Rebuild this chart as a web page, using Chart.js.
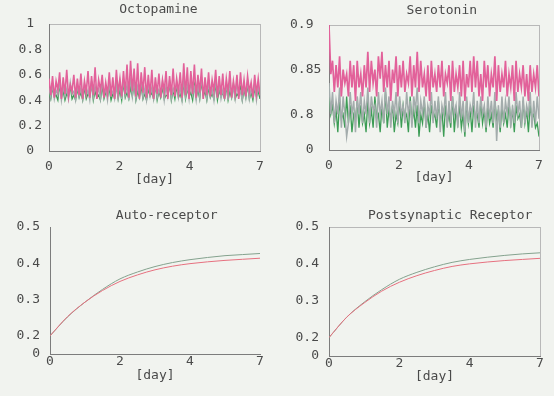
<!DOCTYPE html>
<html><head><meta charset="utf-8">
<script src="https://cdn.jsdelivr.net/npm/chart.js@4.4.1/dist/chart.umd.min.js"></script>
<style>
html,body{margin:0;padding:0;background:#f1f3ef;}
#wrap{position:relative;width:554px;height:396px;overflow:hidden;background:#f1f3ef;}
canvas{position:absolute;}
</style></head><body>
<div id="wrap">
<canvas id="c1" style="left:0;top:0;width:277px;height:198px" width="277" height="198"></canvas>
<canvas id="c2" style="left:277px;top:0;width:277px;height:198px" width="277" height="198"></canvas>
<canvas id="c3" style="left:0;top:198px;width:277px;height:198px" width="277" height="198"></canvas>
<canvas id="c4" style="left:277px;top:198px;width:277px;height:198px" width="277" height="198"></canvas>
</div>
<script>
// ---- tick labels (equally spaced in the figure) ----
const xTickValues = [0, 1, 2, 3];
const xTickLabels = ['0', '2', '4', '7'];

const octoYTicks = [0, 0.2, 0.4, 0.6, 0.8, 1];
const octoYLabels = ['0', '0.2', '0.4', '0.6', '0.8', '1'];
const seroYTicks = [0.76, 0.8, 0.85, 0.9];
const seroYLabels = ['0', '0.8', '0.85', '0.9'];
const recYTicks = [0.15, 0.2, 0.3, 0.4, 0.5];
const recYLabels = ['0', '0.2', '0.3', '0.4', '0.5'];

// ---- Octopamine ----
const octoPink = [
0.57,0.44,0.59,0.42,0.55,0.48,0.62,0.41,0.58,0.45,0.64,0.43,0.52,0.47,0.60,0.42,0.57,0.44,0.61,0.41,
0.55,0.46,0.63,0.42,0.59,0.44,0.66,0.41,0.56,0.48,0.60,0.42,0.54,0.45,0.62,0.43,0.58,0.41,0.64,0.46,
0.57,0.43,0.63,0.45,0.68,0.42,0.71,0.47,0.65,0.43,0.69,0.41,0.62,0.46,0.66,0.42,0.60,0.44,0.64,0.41,
0.58,0.45,0.61,0.42,0.56,0.47,0.63,0.41,0.59,0.44,0.65,0.43,0.57,0.46,0.62,0.42,0.69,0.44,0.66,0.41,
0.63,0.45,0.68,0.42,0.60,0.46,0.65,0.41,0.58,0.44,0.62,0.43,0.56,0.47,0.64,0.42,0.59,0.44,0.61,0.41,
0.57,0.46,0.63,0.42,0.55,0.45,0.60,0.41,0.62,0.44,0.56,0.43,0.59,0.47,0.54,0.42,0.60,0.45,0.57,0.44];
const octoGrey = [
0.50,0.42,0.53,0.41,0.48,0.44,0.55,0.40,0.51,0.43,0.49,0.41,0.54,0.45,0.47,0.40,0.52,0.43,0.50,0.41,
0.53,0.44,0.48,0.40,0.55,0.42,0.51,0.45,0.49,0.41,0.56,0.43,0.50,0.40,0.53,0.44,0.47,0.41,0.52,0.42,
0.54,0.41,0.57,0.44,0.52,0.40,0.58,0.43,0.55,0.41,0.51,0.45,0.56,0.42,0.49,0.40,0.54,0.43,0.50,0.41,
0.53,0.42,0.48,0.44,0.55,0.40,0.51,0.43,0.56,0.41,0.49,0.45,0.54,0.42,0.50,0.40,0.57,0.43,0.52,0.41,
0.55,0.44,0.50,0.40,0.53,0.42,0.58,0.45,0.51,0.41,0.54,0.43,0.49,0.40,0.56,0.44,0.52,0.41,0.48,0.42,
0.53,0.40,0.55,0.43,0.50,0.41,0.54,0.44,0.47,0.40,0.52,0.42,0.56,0.41,0.49,0.43,0.53,0.40,0.51,0.44];
const octoGreen = [
0.46,0.41,0.50,0.43,0.44,0.40,0.52,0.42,0.47,0.40,0.45,0.43,0.51,0.41,0.44,0.40,0.49,0.42,0.46,0.40,
0.50,0.41,0.45,0.43,0.53,0.40,0.47,0.42,0.44,0.40,0.51,0.41,0.46,0.43,0.49,0.40,0.45,0.42,0.52,0.41,
0.48,0.40,0.54,0.42,0.46,0.41,0.50,0.43,0.53,0.40,0.47,0.42,0.51,0.41,0.45,0.40,0.49,0.43,0.46,0.41,
0.52,0.40,0.47,0.42,0.50,0.41,0.44,0.43,0.53,0.40,0.48,0.41,0.51,0.42,0.45,0.40,0.54,0.41,0.49,0.43,
0.46,0.40,0.52,0.42,0.48,0.41,0.55,0.43,0.47,0.40,0.50,0.42,0.45,0.41,0.53,0.40,0.48,0.43,0.46,0.41,
0.51,0.40,0.47,0.42,0.53,0.41,0.45,0.43,0.50,0.40,0.48,0.42,0.52,0.41,0.46,0.40,0.49,0.43,0.47,0.41];

// ---- Serotonin ----
const seroPink = [
0.90,0.845,0.86,0.825,0.855,0.83,0.865,0.82,0.85,0.835,0.845,0.82,0.86,0.83,0.855,0.815,0.86,0.83,0.845,0.82,
0.855,0.83,0.87,0.825,0.86,0.835,0.85,0.82,0.865,0.84,0.87,0.825,0.855,0.83,0.86,0.815,0.85,0.835,0.865,0.82,
0.855,0.83,0.86,0.825,0.845,0.835,0.865,0.82,0.855,0.83,0.87,0.825,0.86,0.83,0.845,0.82,0.855,0.815,0.86,0.83,
0.845,0.825,0.855,0.83,0.86,0.82,0.845,0.835,0.855,0.815,0.86,0.825,0.845,0.83,0.855,0.82,0.86,0.815,0.845,0.83,
0.86,0.825,0.865,0.83,0.86,0.82,0.845,0.815,0.86,0.83,0.855,0.82,0.845,0.83,0.865,0.815,0.855,0.825,0.845,0.83,
0.86,0.82,0.845,0.83,0.855,0.815,0.86,0.825,0.845,0.83,0.855,0.82,0.845,0.815,0.855,0.825,0.845,0.83,0.855,0.82];
const seroGrey = [
0.835,0.80,0.825,0.79,0.815,0.80,0.83,0.785,0.82,0.80,0.775,0.79,0.825,0.80,0.815,0.78,0.82,0.80,0.825,0.79,
0.815,0.80,0.83,0.79,0.82,0.805,0.81,0.785,0.825,0.80,0.815,0.79,0.83,0.80,0.82,0.785,0.815,0.80,0.825,0.79,
0.82,0.80,0.81,0.79,0.825,0.80,0.815,0.785,0.82,0.805,0.83,0.79,0.815,0.80,0.82,0.785,0.81,0.80,0.825,0.79,
0.815,0.795,0.82,0.78,0.81,0.80,0.825,0.785,0.815,0.79,0.82,0.80,0.81,0.785,0.825,0.795,0.815,0.78,0.82,0.79,
0.81,0.80,0.825,0.785,0.815,0.79,0.82,0.80,0.81,0.785,0.82,0.795,0.815,0.79,0.825,0.77,0.81,0.785,0.82,0.79,
0.815,0.80,0.82,0.785,0.81,0.79,0.825,0.80,0.815,0.785,0.82,0.79,0.81,0.80,0.825,0.785,0.815,0.79,0.82,0.795];
const seroGreen = [
0.82,0.80,0.81,0.79,0.805,0.78,0.815,0.795,0.80,0.785,0.82,0.79,0.81,0.78,0.80,0.795,0.815,0.785,0.81,0.79,
0.80,0.78,0.815,0.79,0.805,0.785,0.82,0.795,0.80,0.78,0.81,0.79,0.825,0.785,0.805,0.795,0.81,0.78,0.80,0.79,
0.815,0.785,0.81,0.795,0.80,0.78,0.82,0.79,0.805,0.785,0.81,0.775,0.80,0.79,0.815,0.785,0.80,0.78,0.81,0.795,
0.80,0.785,0.815,0.79,0.805,0.775,0.81,0.79,0.80,0.785,0.82,0.78,0.805,0.79,0.81,0.785,0.80,0.775,0.815,0.79,
0.805,0.78,0.81,0.795,0.80,0.785,0.815,0.79,0.805,0.78,0.81,0.79,0.80,0.785,0.815,0.795,0.805,0.78,0.81,0.79,
0.80,0.785,0.815,0.79,0.805,0.78,0.81,0.795,0.80,0.785,0.815,0.79,0.805,0.78,0.81,0.795,0.80,0.785,0.79,0.775];

// ---- Receptors (sampled every 1/4 of a tick interval) ----
const recX = [0,0.25,0.5,0.75,1,1.25,1.5,1.75,2,2.25,2.5,2.75,3];
const autoUpper = [0.200,0.252,0.293,0.328,0.357,0.376,0.391,0.402,0.410,0.416,0.421,0.424,0.427];
const autoLower = [0.200,0.253,0.293,0.325,0.350,0.368,0.382,0.392,0.399,0.404,0.408,0.411,0.414];
const postUpper = [0.200,0.255,0.296,0.330,0.358,0.377,0.392,0.404,0.412,0.418,0.423,0.427,0.430];
const postLower = [0.200,0.255,0.294,0.326,0.350,0.368,0.382,0.393,0.400,0.405,0.409,0.412,0.415];

// ---- styling ----
const FONT = "'DejaVu Sans Mono', monospace";
const TXT = '#4a4a4a';
const FRAME_DARK = '#7c7c7c';
const FRAME_LIGHT = '#b8b8b8';
const PINK = '#e2619a', GREEN = '#3c9c55', GREY = '#a3acac';
const UPPER = '#84a28e', LOWER = '#e6707f';

function noisy(vals, color, order, w) {
  const n = vals.length;
  return { data: vals.map((y, i) => ({ x: 3 * i / (n - 1), y })), borderColor: color,
           borderWidth: w, pointRadius: 0, tension: 0, order };
}
function smooth(vals, color, order) {
  return { data: vals.map((y, i) => ({ x: recX[i], y })), borderColor: color,
           borderWidth: 1, pointRadius: 0, tension: 0.4, cubicInterpolationMode: 'monotone', order };
}

function panel(id, p) {
  const yTicks = p.yTicks, yLabels = p.yLabels;
  new Chart(document.getElementById(id), {
    type: 'line',
    data: { datasets: p.datasets },
    options: {
      responsive: false, animation: false, events: [],
      layout: { padding: { left: p.padL, right: p.padR, top: 0, bottom: 0 } },
      plugins: {
        legend: { display: false }, tooltip: { enabled: false },
        title: { display: true, text: p.title, color: TXT, fullSize: false,
                 font: { family: FONT, size: 13, weight: 'normal' },
                 padding: { top: p.tTop, bottom: p.tBottom } }
      },
      scales: {
        x: {
          type: 'linear', min: 0, max: 3,
          afterBuildTicks: s => { s.ticks = xTickValues.map(v => ({ value: v })); },
          afterFit: s => { s.height = p.xHeight; },
          ticks: { callback: (v, i) => xTickLabels[i], padding: p.xPad, color: TXT,
                   font: { family: FONT, size: 13 }, maxRotation: 0, autoSkip: false },
          grid: { drawTicks: false, lineWidth: 1,
                  color: c => (p.box && c.index === xTickValues.length - 1) ? FRAME_LIGHT : 'rgba(0,0,0,0)' },
          border: { display: true, color: FRAME_DARK, width: 1 },
          title: { display: true, text: '[day]', color: TXT, font: { family: FONT, size: 13 },
                   padding: { top: 0, bottom: p.xTitlePad } }
        },
        y: {
          type: 'linear', min: yTicks[0], max: yTicks[yTicks.length - 1],
          afterBuildTicks: s => { s.ticks = yTicks.map(v => ({ value: v })); },
          afterFit: s => { s.width = p.yWidth; },
          ticks: { callback: (v, i) => (p.zeroIndent && i === 0 ? '  ' : '') + yLabels[i],
                   padding: p.yPad, crossAlign: p.yAlign, color: TXT,
                   font: { family: FONT, size: 13 }, autoSkip: false },
          grid: { drawTicks: false, lineWidth: 1,
                  color: c => (p.box && c.index === yTicks.length - 1) ? FRAME_LIGHT : 'rgba(0,0,0,0)' },
          border: { display: true, color: FRAME_DARK, width: 1 }
        }
      }
    }
  });
}

panel('c1', {
  title: ' Octopamine', tTop: 2, tBottom: 6.4,
  datasets: [noisy(octoPink, PINK, 0, 1.6), noisy(octoGrey, GREY, 1, 1.4), noisy(octoGreen, GREEN, 2, 1.3)],
  yTicks: octoYTicks, yLabels: octoYLabels, yAlign: 'center', yPad: 7, yWidth: 49,
  padL: 0, padR: 17, xHeight: 47, xPad: 8, xTitlePad: 11, box: true
});
panel('c2', {
  title: '  Serotonin', tTop: 3, tBottom: 6.4,
  datasets: [noisy(seroPink, PINK, 0, 1.7), noisy(seroGrey, GREY, 1, 1.5), noisy(seroGreen, GREEN, 2, 1.3)],
  yTicks: seroYTicks, yLabels: seroYLabels, yAlign: 'far', yPad: 6, yWidth: 39, zeroIndent: true,
  padL: 13, padR: 15, xHeight: 48, xPad: 8, xTitlePad: 13, box: true
});
panel('c3', {
  title: '   Auto-receptor', tTop: 10, tBottom: 3.4,
  datasets: [smooth(autoLower, LOWER, 0), smooth(autoUpper, UPPER, 1)],
  yTicks: recYTicks, yLabels: recYLabels, yAlign: 'near', yPad: 10, yWidth: 50,
  padL: 0, padR: 17, xHeight: 42, xPad: 0, xTitlePad: 13, box: false
});
panel('c4', {
  title: '    Postsynaptic Receptor', tTop: 10, tBottom: 3.4,
  datasets: [smooth(postLower, LOWER, 0), smooth(postUpper, UPPER, 1)],
  yTicks: recYTicks, yLabels: recYLabels, yAlign: 'near', yPad: 10, yWidth: 52,
  padL: 0, padR: 14, xHeight: 40, xPad: 0, xTitlePad: 12, box: true
});
</script>
</body></html>
